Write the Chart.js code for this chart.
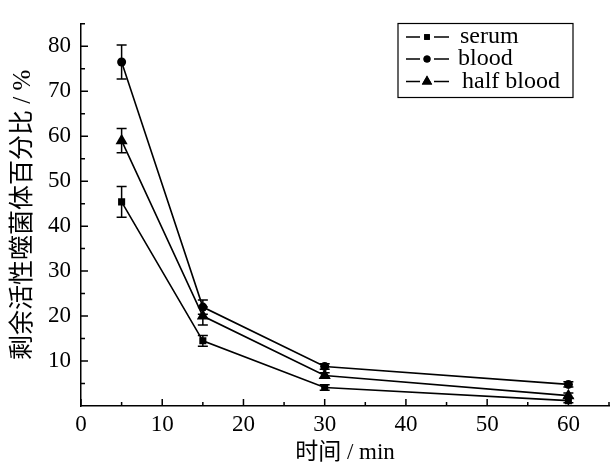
<!DOCTYPE html>
<html>
<head>
<meta charset="utf-8">
<script src="https://cdn.jsdelivr.net/npm/chart.js@4.4.1/dist/chart.umd.min.js"></script>
<style>
    html, body { margin: 0; padding: 0; background: #fff; }
    #wrap { width: 616px; height: 464px; }
</style>
</head>
<body>
<div id="wrap"><canvas id="grafico" width="616" height="464"></canvas></div>
<script>
// tiempos de muestreo (min)
const tiempos = [5, 15, 30, 60];

// porcentaje restante y desviación de cada medio
const serum = [45.4, 14.5, 4.1, 1.2];
const serumErr = [3.4, 1.2, 0.6, 0.5];
const blood = [76.5, 22.0, 8.8, 4.8];
const bloodErr = [3.8, 1.6, 0.6, 0.6];
const halfBlood = [59.0, 20.0, 6.8, 2.3];
const halfBloodErr = [2.7, 2.0, 0.6, 0.6];

const xTicks = [0, 10, 20, 30, 40, 50, 60];
const yTicks = [10, 20, 30, 40, 50, 60, 70, 80];

const fuente = '"Liberation Serif", "Times New Roman", "Noto Sans CJK SC", serif';

function serie(label, valores, errores, estilo, radio) {
    return {
        label: label,
        data: tiempos.map((t, i) => ({ x: t, y: valores[i] })),
        errores: errores,
        borderColor: '#000',
        backgroundColor: '#000',
        borderWidth: 1.6,
        pointStyle: estilo,
        pointRadius: radio,
        pointBorderWidth: 0,
        tension: 0
    };
}

// barras de error con tapas
const barrasError = {
    id: 'barrasError',
    afterDatasetsDraw(chart) {
        const ctx = chart.ctx;
        const sx = chart.scales.x, sy = chart.scales.y;
        ctx.save();
        ctx.strokeStyle = '#000';
        ctx.lineWidth = 1.5;
        chart.data.datasets.forEach(ds => {
            ds.data.forEach((p, i) => {
                const e = ds.errores[i];
                const x = sx.getPixelForValue(p.x);
                const y1 = sy.getPixelForValue(p.y + e);
                const y2 = sy.getPixelForValue(p.y - e);
                ctx.beginPath();
                ctx.moveTo(x, y1); ctx.lineTo(x, y2);
                ctx.moveTo(x - 5, y1); ctx.lineTo(x + 5, y1);
                ctx.moveTo(x - 5, y2); ctx.lineTo(x + 5, y2);
                ctx.stroke();
            });
        });
        ctx.restore();
    }
};

// marcas hacia dentro, mayores y menores
const marcas = {
    id: 'marcas',
    afterDraw(chart) {
        const ctx = chart.ctx;
        const sx = chart.scales.x, sy = chart.scales.y;
        const base = sy.getPixelForValue(0);
        const izq = sx.getPixelForValue(0);
        ctx.save();
        ctx.strokeStyle = '#000';
        ctx.lineWidth = 1.5;
        ctx.beginPath();
        for (let v = 0; v <= 65; v += 5) {
            const x = sx.getPixelForValue(v);
            const largo = v % 10 === 0 ? 7 : 4;
            ctx.moveTo(x, base); ctx.lineTo(x, base - largo);
        }
        for (let v = 5; v <= 85; v += 5) {
            const y = sy.getPixelForValue(v);
            const largo = v % 10 === 0 ? 7 : 4;
            ctx.moveTo(izq, y); ctx.lineTo(izq + largo, y);
        }
        ctx.stroke();
        ctx.restore();
    }
};

// leyenda con recuadro
const leyenda = {
    id: 'leyenda',
    afterDraw(chart) {
        const ctx = chart.ctx;
        ctx.save();
        ctx.strokeStyle = '#000';
        ctx.lineWidth = 1.2;
        ctx.strokeRect(398, 23.5, 175, 74);
        ctx.font = '24px ' + fuente;
        ctx.fillStyle = '#000';
        ctx.textBaseline = 'middle';
        const filas = [37, 59, 81.5];
        const textoX = [460, 458, 462];
        chart.data.datasets.forEach((ds, i) => {
            const y = filas[i];
            ctx.lineWidth = 1.5;
            ctx.beginPath();
            ctx.moveTo(406, y); ctx.lineTo(420, y);
            ctx.moveTo(434, y); ctx.lineTo(449, y);
            ctx.stroke();
            Chart.helpers.drawPoint(ctx, { pointStyle: ds.pointStyle, radius: ds.pointRadius - 1, borderWidth: 0 }, 427, y);
            ctx.fill();
            ctx.fillText(ds.label, textoX[i], y);
        });
        ctx.restore();
    }
};

const ctx = document.getElementById('grafico').getContext('2d');
const chart = new Chart(ctx, {
    type: 'line',
    data: {
        datasets: [
            serie('serum', serum, serumErr, 'rect', 5),
            serie('blood', blood, bloodErr, 'circle', 4.5),
            serie('half blood', halfBlood, halfBloodErr, 'triangle', 7)
        ]
    },
    options: {
        responsive: false,
        animation: false,
        layout: { padding: { top: 11, right: 2, left: 0, bottom: 0 } },
        plugins: {
            legend: { display: false },
            tooltip: { enabled: false }
        },
        scales: {
            x: {
                type: 'linear',
                min: 0,
                max: 65,
                afterBuildTicks: s => { s.ticks = xTicks.map(v => ({ value: v })); },
                afterFit: s => { s.height = 58; },
                grid: { display: false, drawTicks: false },
                border: { display: true, color: '#000', width: 1.5 },
                ticks: { color: '#000', padding: 5, maxRotation: 0, font: { family: fuente, size: 23 } },
                title: {
                    display: true,
                    text: '时间 / min',
                    color: '#000',
                    padding: { top: 0, bottom: 0 },
                    font: { family: fuente, size: 23, lineHeight: 1 }
                }
            },
            y: {
                type: 'linear',
                min: 0,
                max: 85,
                afterBuildTicks: s => { s.ticks = yTicks.map(v => ({ value: v })); },
                afterFit: s => { s.width = 81; },
                grid: { display: false, drawTicks: false },
                border: { display: true, color: '#000', width: 1.5 },
                ticks: { color: '#000', padding: 10, font: { family: fuente, size: 23 } },
                title: {
                    display: true,
                    text: '剩余活性噬菌体百分比 / %',
                    color: '#000',
                    padding: { top: 11, bottom: 0 },
                    font: { family: fuente, size: 25, lineHeight: 1 }
                }
            }
        }
    },
    plugins: [barrasError, marcas, leyenda]
});
</script>
</body>
</html>
